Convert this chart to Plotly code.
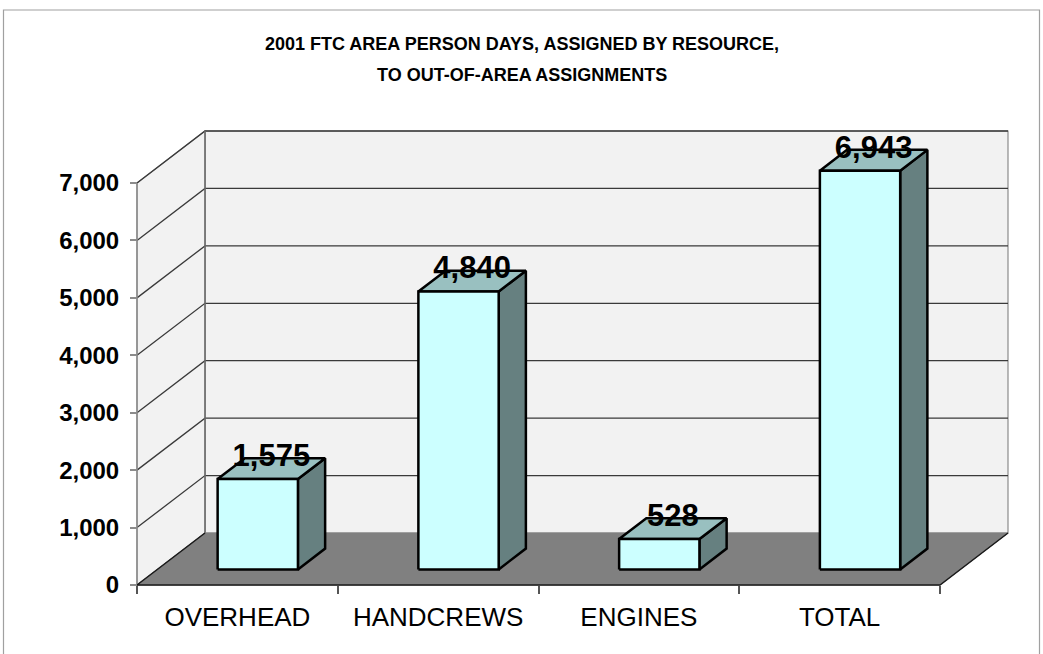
import plotly.graph_objects as go

# Chart data
categories = ["OVERHEAD", "HANDCREWS", "ENGINES", "TOTAL"]
person_days = [1575, 4840, 528, 6943]
y_ticks = [0, 1000, 2000, 3000, 4000, 5000, 6000, 7000]
y_tick_labels = ["0", "1,000", "2,000", "3,000", "4,000", "5,000", "6,000", "7,000"]
title_lines = ["2001 FTC AREA PERSON DAYS, ASSIGNED BY RESOURCE,", "TO OUT-OF-AREA ASSIGNMENTS"]

# Figure / projection setup (oblique 3-D look built on a flat x/y axis pair)
W, H = 1043, 654
X0_PX, Y0_PX = 137, 585              # front-left corner of the floor
PX_PER_CAT = 200.75
PX_PER_VAL = 402 / 7000
DEPTH_PX = (68, 52)                  # full depth offset of the wall box
DX = DEPTH_PX[0] / PX_PER_CAT        # depth offset in category units
DY = DEPTH_PX[1] / PX_PER_VAL        # depth offset in value units
BAR_HALF = 0.2                       # half bar width (category units)
BAR_FRONT, BAR_BACK = 0.3, 0.7       # bar depth span as fraction of full depth
YMAX = y_ticks[-1]
n = len(categories)

x_range = [-0.5 - X0_PX / PX_PER_CAT, -0.5 + (W - X0_PX) / PX_PER_CAT]
y_range = [-(H - Y0_PX) / PX_PER_VAL, Y0_PX / PX_PER_VAL]


def proj(x, v, d):
    """Project a point (category x, value v, depth fraction d) onto the page."""
    return x + d * DX, v + d * DY


def poly(points, fill, line_color="black", line_width=2.5):
    xs, ys = zip(*[proj(*p) for p in points])
    return go.Scatter(x=list(xs) + [xs[0]], y=list(ys) + [ys[0]], mode="lines",
                      fill="toself", fillcolor=fill,
                      line=dict(color=line_color, width=line_width),
                      hoverinfo="skip", showlegend=False)


def seg(points, color, width):
    xs, ys = zip(*[proj(*p) for p in points])
    return go.Scatter(x=list(xs), y=list(ys), mode="lines",
                      line=dict(color=color, width=width),
                      hoverinfo="skip", showlegend=False)


left, right = -0.5, n - 0.5
traces = []

# Back wall and left side wall
wall = "#F2F2F2"
traces.append(poly([(left, 0, 1), (right, 0, 1), (right, YMAX, 1), (left, YMAX, 1)],
                   wall, "#8C8C8C", 1.2))
traces.append(poly([(left, 0, 0), (left, 0, 1), (left, YMAX, 1), (left, YMAX, 0)],
                   wall, "#8C8C8C", 1.2))

# Gridlines on both walls
for g in y_ticks[1:]:
    traces.append(seg([(left, g, 0), (left, g, 1), (right, g, 1)], "#3A3A3A", 1.3))

# Back wall left edge and front axis line
traces.append(seg([(left, 0, 1), (left, YMAX, 1)], "#6E6E6E", 1.5))
traces.append(seg([(left, 0, 0), (left, YMAX, 0)], "#8C8C8C", 1.5))

# Floor
traces.append(poly([(left, 0, 0), (right, 0, 0), (right, 0, 1), (left, 0, 1)],
                   "#808080", "#808080", 1))
traces.append(seg([(left, 0, 1), (left, 0, 0), (right, 0, 0), (right, 0, 1)], "#1A1A1A", 1.5))

# Bars: front, side and top faces
front_c, side_c, top_c = "#CCFFFF", "#668080", "#99C0C0"
for i, v in enumerate(person_days):
    a, b = i - BAR_HALF, i + BAR_HALF
    f, k = BAR_FRONT, BAR_BACK
    traces.append(poly([(b, 0, f), (b, 0, k), (b, v, k), (b, v, f)], side_c))
    traces.append(poly([(a, v, f), (b, v, f), (b, v, k), (a, v, k)], top_c))
    traces.append(poly([(a, 0, f), (b, 0, f), (b, v, f), (a, v, f)], front_c))

# Value labels sitting on the bar tops
lx = [proj(i, 0, 0.5)[0] for i in range(n)]
ly = [v + BAR_BACK * DY for v in person_days]
traces.append(go.Scatter(
    x=lx, y=ly, mode="text", text=[f"{v:,}" for v in person_days],
    textposition="middle center",
    textfont=dict(family="Liberation Sans, Arial", size=31, color="black", weight="bold"),
    hoverinfo="skip", showlegend=False, cliponaxis=False))

fig = go.Figure(traces)

title_font = dict(family="Liberation Sans, Arial", size=18, color="black", weight="bold")

fig.update_layout(
    width=W, height=H,
    margin=dict(l=0, r=0, t=0, b=0),
    paper_bgcolor="white", plot_bgcolor="white",
    showlegend=False,
    xaxis=dict(
        range=x_range, domain=[0, 1], anchor="free", position=(H - Y0_PX) / H,
        showgrid=False, zeroline=False, showline=False,
        tickmode="array", tickvals=list(range(n)), ticktext=categories,
        ticks="", ticklabelstandoff=14,
        tickfont=dict(family="Liberation Sans, Arial", size=26, color="black"),
        minor=dict(tickmode="array", tickvals=[left + j for j in range(n + 1)],
                   ticks="outside", ticklen=8, tickwidth=1.5, tickcolor="#555555",
                   showgrid=False),
        fixedrange=True,
    ),
    yaxis=dict(
        range=y_range, domain=[0, 1], anchor="free", position=X0_PX / W,
        showgrid=False, zeroline=False, showline=False,
        tickmode="array", tickvals=y_ticks, ticktext=y_tick_labels,
        ticks="outside", ticklen=7, tickwidth=1.5, tickcolor="#8C8C8C",
        ticklabelstandoff=6,
        tickfont=dict(family="Liberation Sans, Arial", size=24, color="black", weight="bold"),
        fixedrange=True,
    ),
    shapes=[dict(type="rect", xref="paper", yref="paper",
                 x0=3.5 / W, x1=1039.5 / W, y0=-0.05, y1=1 - 10 / H,
                 line=dict(color="#A0A0A0", width=1.2), fillcolor="rgba(0,0,0,0)",
                 layer="below")],
    annotations=[
        dict(text=title_lines[0], xref="paper", yref="paper", x=521.5 / W, y=1 - 44.5 / H,
             xanchor="center", yanchor="middle", showarrow=False, font=title_font),
        dict(text=title_lines[1], xref="paper", yref="paper", x=521.5 / W, y=1 - 74.5 / H,
             xanchor="center", yanchor="middle", showarrow=False, font=title_font),
    ],
)

fig.write_html("out.html")
